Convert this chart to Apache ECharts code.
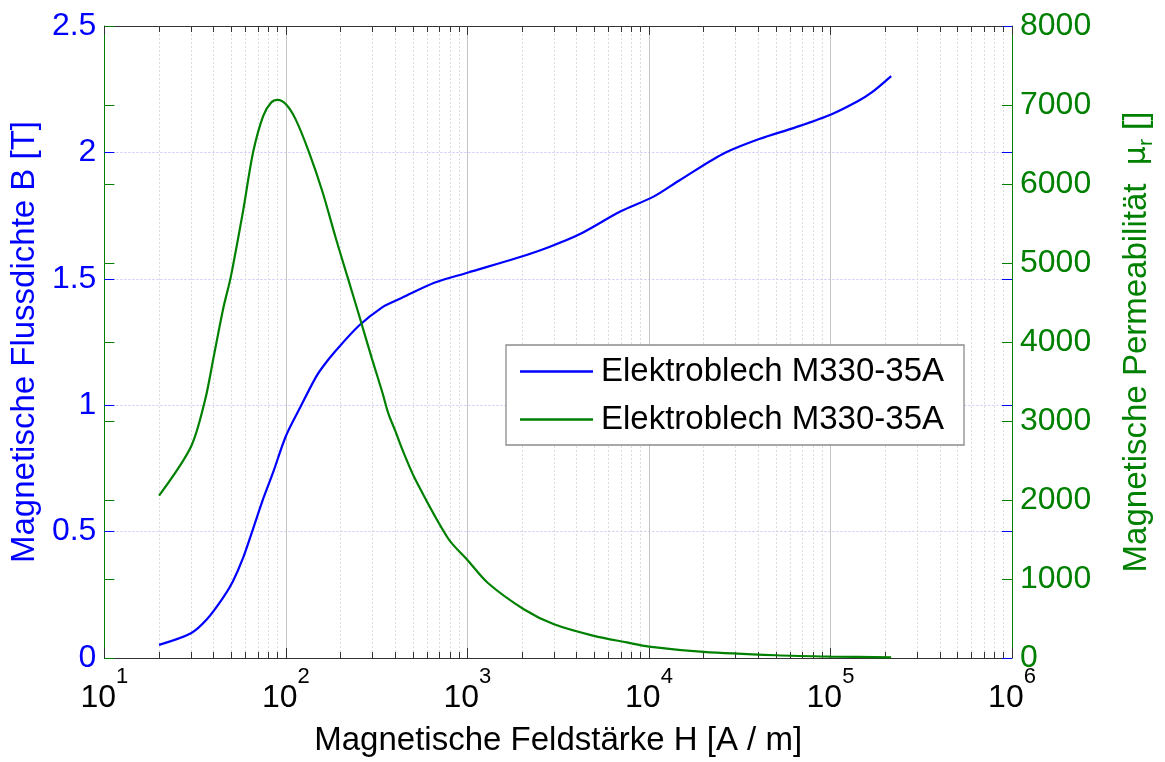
<!DOCTYPE html>
<html>
<head>
<meta charset="utf-8">
<script src="https://cdn.jsdelivr.net/npm/echarts@6/dist/echarts.min.js"></script>
<style>
html,body{margin:0;padding:0;background:#fff;}
#chart{width:1165px;height:762px;}
</style>
</head>
<body>
<div id="chart"></div>
<script>
// Field strength H [A/m] and flux density B [T]
const H_B = [20, 30, 36.7, 45, 51, 58, 66, 75, 85, 100, 118, 146, 159, 188, 253, 339, 401, 436, 662, 1000, 1890, 2800, 4200, 6950, 10600, 14760, 25500, 40500, 64100, 101600, 142000, 168000, 216000];
const B = [0.052, 0.098, 0.153, 0.238, 0.303, 0.395, 0.512, 0.63, 0.734, 0.878, 0.982, 1.11, 1.15, 1.215, 1.315, 1.387, 1.413, 1.425, 1.485, 1.524, 1.583, 1.625, 1.678, 1.766, 1.825, 1.89, 1.994, 2.053, 2.099, 2.151, 2.203, 2.236, 2.302];
// Field strength H [A/m] and relative permeability mu_r
const H_MU = [20, 30, 35.9, 40, 45.3, 49.6, 58, 66, 75, 83, 90, 100, 113, 134, 159, 188, 222, 253, 298, 339, 367, 401, 436, 515, 783, 1000, 1297, 2055, 3000, 4970, 7550, 10000, 20000, 50000, 100000, 216000];
const MU = [2056, 2675, 3269, 3812, 4439, 4815, 5651, 6404, 6863, 7031, 7064, 7009, 6821, 6404, 5902, 5320, 4770, 4338, 3787, 3370, 3093, 2871, 2650, 2266, 1513, 1241, 949, 614, 426, 280, 197, 145, 78, 35, 18, 8];
// Axis settings
const X_MIN = 10, X_MAX = 1e6;
const DECADES = [1, 2, 3, 4, 5];
const MINOR_FACTORS = [2, 3, 4, 5, 6, 7, 8, 9];
const B_MAX = 2.5, B_STEP = 0.5;
const MU_MAX = 8000, MU_STEP = 1000;
const SERIES_NAME = 'Elektroblech M330-35A';
const X_NAME = 'Magnetische Feldstärke H [A / m]';
const YL_NAME = 'Magnetische Flussdichte B [T]';

const BLUE = '#0000ff', GREEN = '#008000';
const FONT = "'Liberation Sans', Arial, sans-serif";

// minor tick positions in log10 space
const minorLog = [];
DECADES.forEach(n => MINOR_FACTORS.forEach(k => minorLog.push(n + Math.log10(k))));

const chart = echarts.init(document.getElementById('chart'), null, {renderer: 'canvas'});

const option = {
  animation: false,
  backgroundColor: '#fff',
  textStyle: {fontFamily: FONT},
  grid: {left: 100, right: 150, top: 26, bottom: 98, containLabel: false},
  legend: {
    orient: 'vertical',
    left: 506, top: 345,
    backgroundColor: '#fff',
    borderColor: '#8c8c8c', borderWidth: 1.3,
    padding: [10, 20, 9, 14],
    itemGap: 15,
    itemWidth: 73, itemHeight: 2.5,
    icon: 'rect',
    textStyle: {fontSize: 33, color: '#000', fontFamily: FONT, lineHeight: 30, padding: [0, 0, 0, 3]},
    formatter: function (n) { return n.replace(/\u200b/g, ''); },
    data: [SERIES_NAME, SERIES_NAME + '\u200b']
  },
  xAxis: [
    {
      type: 'log', logBase: 10, min: X_MIN, max: X_MAX, position: 'bottom',
      name: X_NAME, nameLocation: 'middle', nameGap: 66,
      nameTextStyle: {fontSize: 33, color: '#000', fontFamily: FONT},
      axisLine: {show: true, onZero: false, lineStyle: {color: '#333', width: 1}},
      axisTick: {show: true, inside: true, length: 10, lineStyle: {color: '#333'}},
      axisLabel: {
        margin: 8,
        formatter: function (v) { return '{b|10}{sup|' + Math.round(Math.log10(v)) + '}'; },
        rich: {
          b: {fontSize: 32, color: '#000', fontFamily: FONT, lineHeight: 48, verticalAlign: 'bottom'},
          sup: {fontSize: 22, color: '#000', fontFamily: FONT, lineHeight: 24, verticalAlign: 'top'}
        }
      },
      splitLine: {show: true, lineStyle: {color: '#c4c4c4', width: 1}},
      minorTick: {show: false}
    },
    {
      type: 'value', min: 1, max: 6, position: 'bottom',
      axisLine: {show: false, onZero: false},
      axisTick: {show: true, inside: true, length: 6, customValues: minorLog, lineStyle: {color: '#333'}},
      axisLabel: {show: false},
      splitLine: {show: true, lineStyle: {color: '#dcdcdc', width: 1, type: [2, 2]}}
    },
    {
      type: 'log', logBase: 10, min: X_MIN, max: X_MAX, position: 'top',
      axisLine: {show: true, onZero: false, lineStyle: {color: '#333', width: 1}},
      axisTick: {show: true, inside: true, length: 9, lineStyle: {color: '#333'}},
      axisLabel: {show: false},
      splitLine: {show: false}
    },
    {
      type: 'value', min: 1, max: 6, position: 'top',
      axisLine: {show: false, onZero: false},
      axisTick: {show: true, inside: true, length: 6, customValues: minorLog, lineStyle: {color: '#333'}},
      axisLabel: {show: false},
      splitLine: {show: false}
    }
  ],
  yAxis: [
    {
      type: 'value', min: 0, max: B_MAX, interval: B_STEP, position: 'left',
      name: YL_NAME, nameLocation: 'middle', nameGap: 60, nameRotate: 90,
      nameTextStyle: {fontSize: 33, color: BLUE, fontFamily: FONT},
      axisLine: {show: true, onZero: false, lineStyle: {color: GREEN, width: 1}},
      axisTick: {show: true, inside: true, length: 10, lineStyle: {color: BLUE}},
      axisLabel: {fontSize: 32, color: BLUE, margin: 8, fontFamily: FONT, formatter: v => String(v)},
      splitLine: {show: true, lineStyle: {color: '#c8c8ff', width: 1, type: [2, 2]}}
    },
    {
      type: 'value', min: 0, max: MU_MAX, interval: MU_STEP, position: 'right',
      name: '{t|Magnetische Permeabilität  }{mu|μ}{sub|r}{t| []}',
      nameLocation: 'middle', nameGap: 105, nameRotate: 90,
      nameTextStyle: {
        color: GREEN, fontSize: 33, fontFamily: FONT,
        rich: {
          t: {fontSize: 33, color: GREEN, fontFamily: FONT, lineHeight: 40, verticalAlign: 'middle'},
          mu: {fontSize: 30, color: GREEN, fontFamily: "'DejaVu Sans', sans-serif", lineHeight: 40, verticalAlign: 'middle'},
          sub: {fontSize: 21, color: GREEN, fontFamily: FONT, lineHeight: 24, verticalAlign: 'bottom'}
        }
      },
      axisLine: {show: true, onZero: false, lineStyle: {color: GREEN, width: 1}},
      axisTick: {show: true, inside: true, length: 10, lineStyle: {color: GREEN}},
      axisLabel: {fontSize: 32, color: GREEN, margin: 8, fontFamily: FONT, formatter: v => String(v)},
      splitLine: {show: false}
    },
    {
      type: 'value', min: 0, max: MU_MAX, interval: MU_STEP, position: 'left',
      axisLine: {show: false},
      axisTick: {show: true, inside: true, length: 10, lineStyle: {color: GREEN}},
      axisLabel: {show: false},
      splitLine: {show: false}
    },
    {
      type: 'value', min: 0, max: B_MAX, interval: B_STEP, position: 'right',
      axisLine: {show: false},
      axisTick: {show: true, inside: true, length: 10, lineStyle: {color: BLUE}},
      axisLabel: {show: false},
      splitLine: {show: false}
    }
  ],
  series: [
    {
      name: SERIES_NAME, type: 'line', xAxisIndex: 0, yAxisIndex: 0,
      data: H_B.map((h, i) => [h, B[i]]),
      symbol: 'none', smooth: 0.3,
      lineStyle: {color: BLUE, width: 2.2},
      itemStyle: {color: BLUE},
      z: 5
    },
    {
      name: SERIES_NAME + '\u200b', type: 'line', xAxisIndex: 0, yAxisIndex: 1,
      data: H_MU.map((h, i) => [h, MU[i]]),
      symbol: 'none', smooth: 0.3,
      lineStyle: {color: GREEN, width: 2.2},
      itemStyle: {color: GREEN},
      z: 5
    }
  ]
};
chart.setOption(option);
</script>
</body>
</html>
